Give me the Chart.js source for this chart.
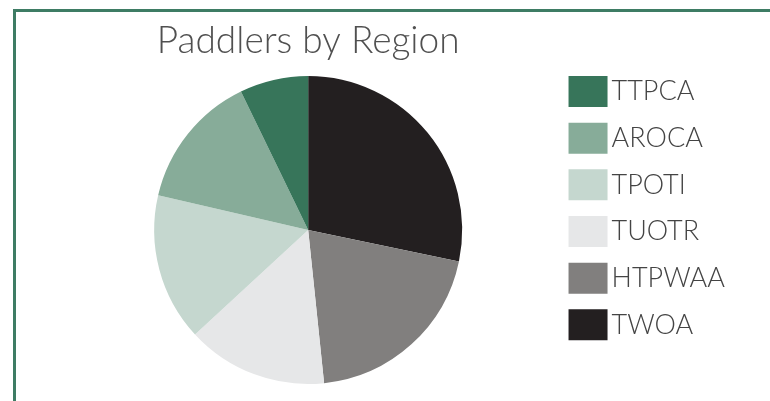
<!DOCTYPE html>
<html>
<head>
<meta charset="utf-8">
<script src="https://cdn.jsdelivr.net/npm/chart.js@4/dist/chart.umd.min.js"></script>
<style>
  html, body { margin: 0; padding: 0; background: #fff; overflow: hidden; }
  #frame {
    position: absolute; left: 13px; top: 9px;
    width: 900px; height: 500px;
    border: 3px solid #3e7c64;
  }
  #canvas { position: absolute; left: 0; top: 0; }
</style>
</head>
<body>
<div id="frame"></div>
<canvas id="canvas" width="770" height="401"></canvas>
<script>
// Dữ liệu biểu đồ (thứ tự như chú thích)
const regions = ['TTPCA', 'AROCA', 'TPOTI', 'TUOTR', 'HTPWAA', 'TWOA'];
const paddlers = [7.2, 14.2, 15.5, 14.8, 20.1, 28.3];
const colours = ['#37755a', '#87ac99', '#c5d7cf', '#e6e7e8', '#817f7e', '#231f20'];

// Pie vẽ theo chiều kim đồng hồ bắt đầu từ TWOA, nên đảo ngược thứ tự
const labels = regions.slice().reverse();
const values = paddlers.slice().reverse();
const bg = colours.slice().reverse();

function renderChart() {
    const ctx = document.getElementById('canvas').getContext('2d');
    new Chart(ctx, {
        type: 'pie',
        data: {
            labels: labels,
            datasets: [{
                data: values,
                backgroundColor: bg,
                borderWidth: 0,
            }]
        },
        options: {
            responsive: false,
            animation: false,
            events: [],
            radius: 154,
            layout: {
                padding: { left: 58, right: 35, top: 0, bottom: 17 }
            },
            plugins: {
                title: {
                    display: true,
                    text: 'Paddlers by Region',
                    fullSize: false,
                    color: '#505050',
                    font: { family: 'Lato', size: 37, weight: '300' },
                    padding: { top: 18.5, bottom: 13.1 },
                },
                legend: {
                    position: 'right',
                    reverse: true,
                    title: {
                        display: true,
                        text: ' ',
                        font: { size: 10 },
                        padding: { top: 20.3, bottom: 0 },
                    },
                    labels: {
                        color: '#444444',
                        font: { family: 'Lato', size: 27, weight: '300' },
                        boxWidth: 20,
                        boxHeight: 12,
                        padding: 19.66,
                        generateLabels: function(chart) {
                            const items = Chart.overrides.pie.plugins.legend.labels.generateLabels(chart);
                            return items.map(item => Object.assign(item, {
                                strokeStyle: item.fillStyle,
                                lineWidth: 19,
                                lineJoin: 'miter',
                            }));
                        }
                    }
                },
                tooltip: { enabled: false }
            }
        }
    });
}

renderChart();
</script>
</body>
</html>
